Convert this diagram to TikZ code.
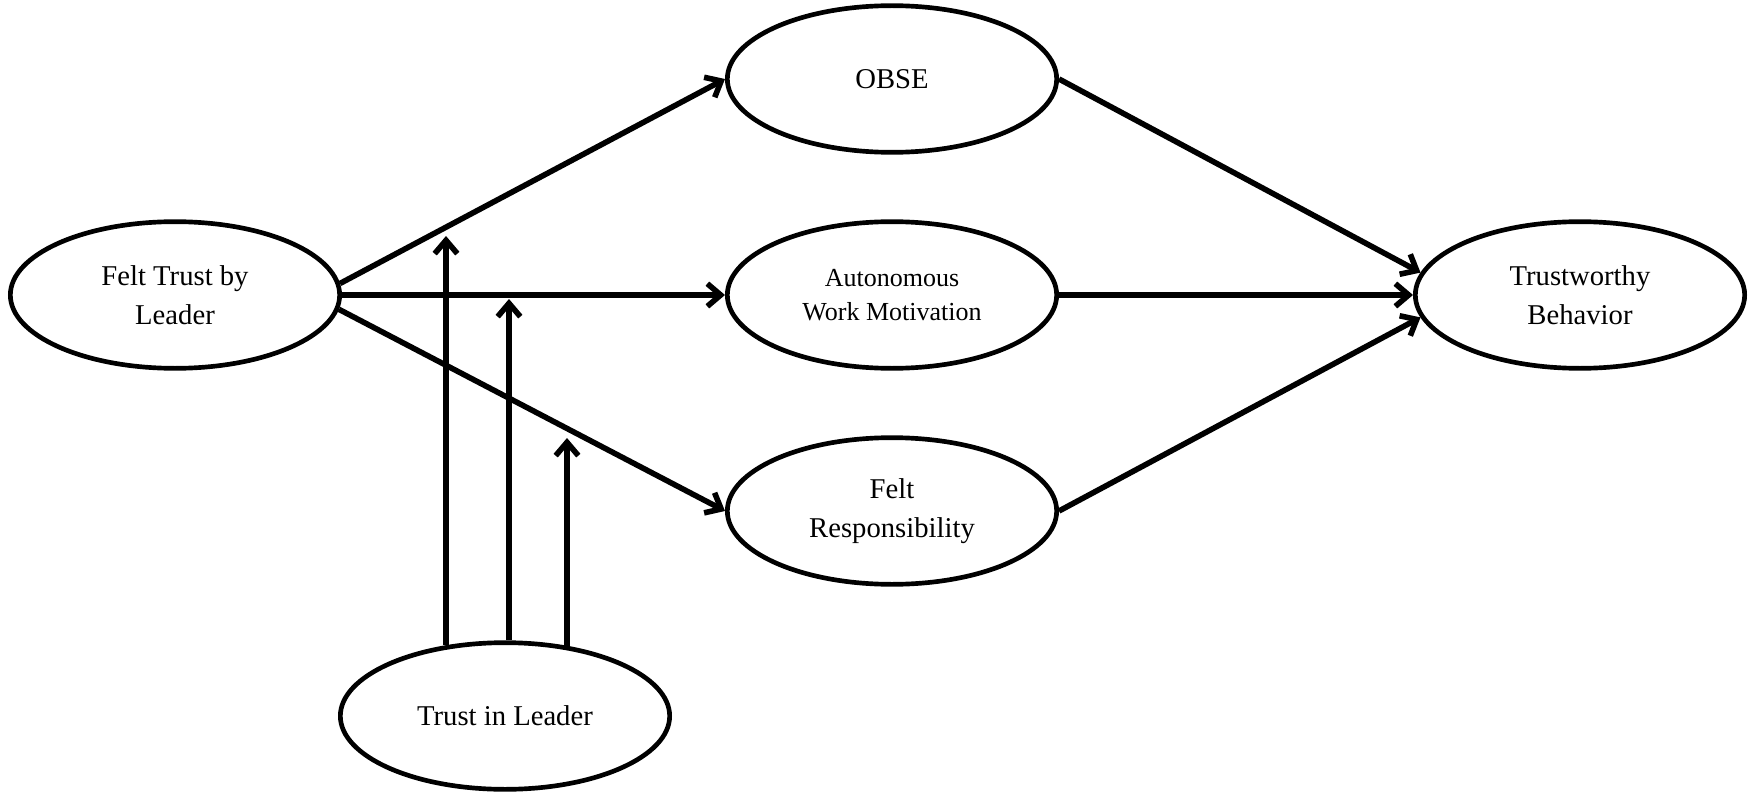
\documentclass[tikz,border=0pt]{standalone}
\usepackage{fontspec}
\setmainfont{Liberation Serif}
\usetikzlibrary{shapes.geometric,arrows.meta}
\begin{document}
\begin{tikzpicture}[x=0.75pt,y=-0.75pt,
  var/.style={ellipse,draw,line width=3.5pt,minimum width=247pt,minimum height=110pt,inner sep=0pt,align=center,font=\fontsize{21.5}{29}\selectfont},
  link/.style={line width=4.2pt,-{Straight Barb[length=10pt,width=17pt]}}
]
\useasboundingbox (0,0) rectangle (1749,795);
\node[var] (ft) at (175,295) {Felt Trust by\\Leader};
\node[var] (obse) at (892,79) {OBSE};
\node[var,font=\fontsize{19.5}{26}\selectfont] (awm) at (892,295) {Autonomous\\Work Motivation};
\node[var] (fr) at (892,511) {Felt\\Responsibility};
\node[var] (tb) at (1580,295) {Trustworthy\\Behavior};
\node[var] (til) at (505,716) {Trust in Leader};
\draw[link] (ft.4) -- (obse.west);
\draw[link] (ft.east) -- (awm.west);
\draw[link] (ft.-5) -- (fr.west);
\draw[link] (obse.east) -- (tb.172);
\draw[link] (awm.east) -- (tb.west);
\draw[link] (fr.east) -- (tb.188);
\coordinate (m1) at (446,236);
\coordinate (m2) at (509,299);
\coordinate (m3) at (567,438);
\draw[link] (m1 |- til.130) -- (m1);
\draw[link] (til.north -| m2) -- (m2);
\draw[link] (m3 |- til.49) -- (m3);
\end{tikzpicture}
\end{document}
